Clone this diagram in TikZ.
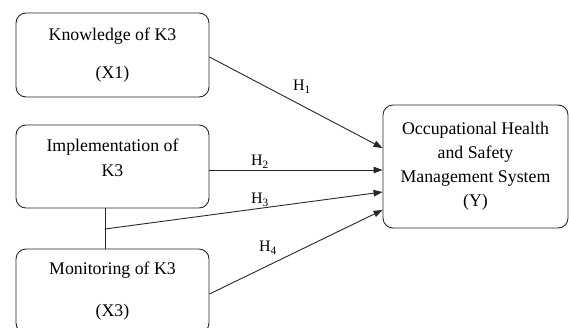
\documentclass[tikz,border=0pt]{standalone}
\usepackage{fontspec}
\setmainfont{Liberation Serif}
\usetikzlibrary{arrows.meta}
\begin{document}
\begin{tikzpicture}[x=1pt,y=-1pt,
  box/.style={draw=black!85,line width=0.9pt,rounded corners=10pt,inner sep=0pt},
  txt/.style={inner sep=0pt,font=\fontsize{17.8}{24}\selectfont,align=center},
  lab/.style={inner sep=0pt,font=\fontsize{16}{18}\selectfont},
  conn/.style={line width=0.9pt,draw=black!85},
  arr/.style={conn,-{Triangle[length=9pt,width=6.5pt]}}]
\clip (0,0) rectangle (569,327);
\useasboundingbox (0,0) rectangle (569,327);
\node[box,minimum width=193pt,minimum height=84pt] (K) at (112.5,55) {};
\node[box,minimum width=193pt,minimum height=83pt] (B) at (112.5,166.5) {};
\node[box,minimum width=193pt,minimum height=84pt] (M) at (112.5,291) {};
\node[box,minimum width=185pt,minimum height=123pt] (Y) at (475.5,166.5) {};
\node[txt] (k1) at (112.5,36) {Knowledge of K3};
\node[txt] (k2) at (112.5,74) {(X1)};
\node[txt] (b1) at (112.5,147) {Implementation of};
\node[txt] (b2) at (112.5,171) {K3};
\node[txt] (m1) at (112.5,270) {Monitoring of K3};
\node[txt] (m2) at (112.5,312) {(X3)};
\node[txt] (y1) at (475.5,166.5) {Occupational Health\\and Safety\\Management System\\(Y)};
\coordinate (J) at (105,229);
\draw[conn] ([xshift=-7.5pt]B.south) -- ([xshift=-7.5pt]M.north);
\draw[arr] ([yshift=-2pt]K.east) -- ([yshift=18.5pt]Y.west);
\draw[arr] ([yshift=-3.5pt]B.east) -- ([yshift=-3.5pt]Y.west);
\draw[arr] (J) -- ([yshift=-25.5pt]Y.west);
\draw[arr] ([yshift=-3pt]M.east) -- ([yshift=-43.5pt]Y.west);
\node[lab] (h1) at (302,87) {H\textsubscript{1}};
\node[lab] (h2) at (260,162) {H\textsubscript{2}};
\node[lab] (h3) at (260,200) {H\textsubscript{3}};
\node[lab] (h4) at (268,248) {H\textsubscript{4}};
\end{tikzpicture}
\end{document}
